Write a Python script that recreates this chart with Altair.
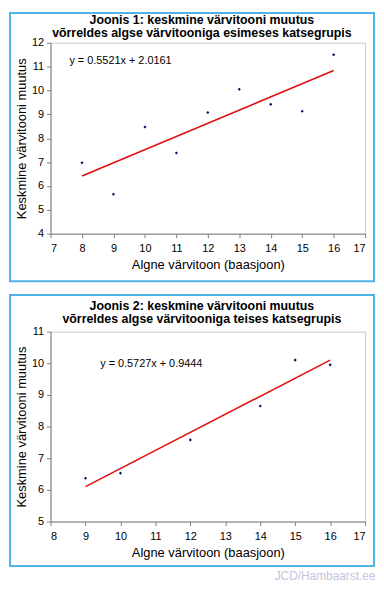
import altair as alt
import pandas as pd

# Panel 1 data
x1 = [8, 9, 10, 11, 12, 13, 14, 15, 16]
y1 = [6.97, 5.65, 8.47, 7.38, 9.08, 10.05, 9.42, 9.13, 11.5]
eq1 = ["y = 0.5521x + 2.0161"]
eq1_x = [7.6]
eq1_y = [11.22]
title1 = ["Joonis 1: keskmine värvitooni muutus", "võrreldes algse värvitooniga esimeses katsegrupis"]

# Panel 2 data
x2 = [9, 10, 12, 14, 15, 16]
y2 = [6.37, 6.53, 7.58, 8.65, 10.1, 9.95]
eq2 = ["y = 0.5727x + 0.9444"]
eq2_x = [9.42]
eq2_y = [9.97]
title2 = ["Joonis 2: keskmine värvitooni muutus", "võrreldes algse värvitooniga teises katsegrupis"]

x_title = "Algne värvitoon (baasjoon)"
y_title = "Keskmine värvitooni muutus"
credit = "JCD/Hambaarst.ee"

FONT = "Liberation Sans"
FRAME = "#4fb3e6"


def panel(xs, ys, eq, ex, ey, title, xdom, ydom, h, frame_top, frame_bottom, toff):
    df = pd.DataFrame({"x": xs, "y": ys})
    edf = pd.DataFrame({"x": ex, "y": ey, "t": eq})
    xsc = alt.Scale(domain=xdom, nice=False)
    ysc = alt.Scale(domain=ydom, nice=False)
    xax = alt.Axis(values=list(range(xdom[0], xdom[1] + 1)), title=x_title, grid=False,
                   labelOverlap=False)
    yax = alt.Axis(values=list(range(ydom[0], ydom[1] + 1)), title=y_title, grid=False,
                   labelOverlap=False)
    X = alt.X("x:Q", scale=xsc, axis=xax)
    Y = alt.Y("y:Q", scale=ysc, axis=yax)

    frame = alt.Chart(pd.DataFrame({"k": [0]})).mark_rect(
        fill=None, stroke=FRAME, strokeWidth=2
    ).encode(
        x=alt.value(-41), x2=alt.value(327),
        y=alt.value(frame_top), y2=alt.value(frame_bottom)
    )
    base = alt.Chart(df)
    line = base.transform_regression("x", "y").mark_line(
        color="#e01010", strokeWidth=1.6
    ).encode(x=X, y=Y)
    pts = base.mark_point(
        filled=True, shape="diamond", size=10, color="#0a0a60", opacity=1
    ).encode(x=X, y=Y)
    txt = alt.Chart(edf).mark_text(
        align="left", baseline="middle", fontSize=11, font=FONT, color="#000"
    ).encode(x=X, y=Y, text="t:N")
    return alt.layer(frame, line, pts, txt).properties(
        width=318, height=h,
        title=alt.TitleParams(
            text=title, fontSize=12.5, font=FONT, fontWeight="bold",
            anchor="middle", dx=-6, offset=toff, lineHeight=13, color="#000",
            frame="group"
        ),
    )


p1 = panel(x1, y1, eq1, eq1_x, eq1_y, title1, [7, 17], [4, 12], 193, -30, 241, -28)
p2 = panel(x2, y2, eq2, eq2_x, eq2_y, title2, [8, 17], [5, 11], 192, -37, 237, -32)

chart = alt.vconcat(p1, p2, spacing=10).properties(
    padding=0,
    title=alt.TitleParams(
        text=credit, orient="bottom", anchor="end", fontSize=12, font=FONT,
        fontWeight="normal", color="#c4c4dc", offset=4
    ),
).configure_view(
    stroke="#c8c8c8", strokeWidth=1
).configure_axis(
    domainColor="#808080", tickColor="#808080", tickSize=4,
    labelFont=FONT, labelFontSize=11, labelColor="#000",
    titleFont=FONT, titleFontSize=13, titleFontWeight="normal", titleColor="#000",
    labelPadding=3,
).configure_axisX(
    titlePadding=5, labelPadding=5
).configure_axisY(
    titlePadding=3
)

chart.save("out.html", embed_options={"renderer": "svg", "actions": False})
